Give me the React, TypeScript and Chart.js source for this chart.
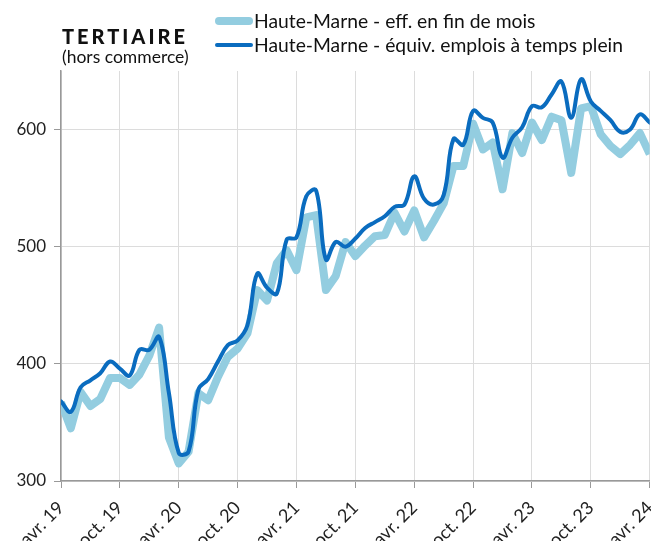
import { useEffect, useRef } from "react";
import { Chart, registerables } from "chart.js";

Chart.register(...registerables);

const tickLabels = [
  "avr. 19", "oct. 19", "avr. 20", "oct. 20", "avr. 21", "oct. 21",
  "avr. 22", "oct. 22", "avr. 23", "oct. 23", "avr. 24",
];

// Monthly values, avr. 19 .. avr. 24 (61 months)
const effFinDeMois = [
  367, 345, 376, 364, 370, 388, 388, 382, 391, 407, 431, 337,
  315, 325, 375, 369, 389, 406, 413, 426, 463, 454, 486, 497,
  480, 525, 527, 463, 475, 504, 492, 501, 509, 510, 529, 513,
  531, 508, 522, 537, 569, 569, 605, 583, 589, 549, 597, 580,
  606, 591, 611, 608, 563, 618, 620, 596, 586, 579, 587, 597,
  579,
];

const equivTempsPlein = [
  368, 359, 380, 386, 392, 402, 396, 390, 412, 412, 423, 375,
  324, 325, 378, 387, 402, 416, 420, 433, 477, 465, 460, 506,
  508, 543, 548, 489, 504, 500, 507, 516, 521, 526, 534, 536,
  560, 541, 536, 544, 592, 587, 616, 610, 606, 576, 593, 602,
  620, 619, 630, 641, 610, 643, 624, 616, 608, 598, 600, 613,
  606,
];

const seriesNames = [
  "Haute-Marne - eff. en fin de mois",
  "Haute-Marne - équiv. emplois à temps plein",
];

const LIGHT = "#93cde0";
const DARK = "#0a6cbf";
const FONT = "Lato, 'Open Sans', sans-serif";

export default function App() {
  const canvasRef = useRef<HTMLCanvasElement | null>(null);

  useEffect(() => {
    if (!canvasRef.current) return;
    const toPoints = (arr: number[]) => arr.map((y, i) => ({ x: i, y }));
    const chart = new Chart(canvasRef.current, {
      type: "line",
      data: {
        datasets: [
          {
            label: seriesNames[1],
            data: toPoints(equivTempsPlein),
            borderColor: DARK,
            backgroundColor: DARK,
            borderWidth: 4,
            tension: 0.4,
            pointRadius: 0,
            borderJoinStyle: "round",
            borderCapStyle: "round",
          },
          {
            label: seriesNames[0],
            data: toPoints(effFinDeMois),
            borderColor: LIGHT,
            backgroundColor: LIGHT,
            borderWidth: 8,
            tension: 0,
            pointRadius: 0,
            borderJoinStyle: "round",
          },
        ],
      },
      options: {
        animation: false,
        responsive: false,
        layout: { padding: { top: 71, left: 0, right: 0, bottom: 0 } },
        plugins: {
          legend: { display: false },
          title: { display: false },
          tooltip: { enabled: false },
        },
        scales: {
          x: {
            type: "linear",
            min: 0,
            max: 60,
            afterFit: (s: any) => {
              s.height = 60;
            },
            ticks: {
              stepSize: 6,
              autoSkip: false,
              minRotation: 45,
              maxRotation: 45,
              color: "#222",
              padding: 9,
              font: { family: FONT, size: 18 },
              callback: (v: any) => {
                const idx = Math.round(Number(v) / 6);
                return Number(v) % 6 === 0 ? tickLabels[idx] : "";
              },
            },
            grid: { color: "#dcdcdc", lineWidth: 1, tickLength: 7, tickColor: "#999" },
            border: { display: true, color: "#999", width: 1.5 },
          },
          y: {
            min: 300,
            max: 650,
            afterFit: (s: any) => {
              s.width = 61;
            },
            ticks: {
              stepSize: 100,
              includeBounds: false,
              color: "#222",
              padding: 8,
              font: { family: FONT, size: 17 },
            },
            grid: { color: "#dcdcdc", lineWidth: 1, tickLength: 7, tickColor: "#999" },
            border: { display: true, color: "#999", width: 1.5 },
          },
        },
      },
    });
    return () => chart.destroy();
  }, []);

  return (
    <div
      style={{
        position: "absolute",
        left: 0,
        top: 0,
        width: 651,
        height: 541,
        overflow: "hidden",
        background: "#fff",
        fontFamily: FONT,
        color: "#111",
      }}
    >
      <canvas
        ref={canvasRef}
        width={674}
        height={541}
        style={{ position: "absolute", left: 0, top: 0, width: 674, height: 541 }}
      />
      <div style={{ position: "absolute", left: 62, top: 25, fontSize: 20, fontWeight: 900, letterSpacing: 3, lineHeight: "22px" }}>
        TERTIAIRE
      </div>
      <div style={{ position: "absolute", left: 62, top: 47, fontSize: 17.5, lineHeight: "20px" }}>
        (hors commerce)
      </div>
      <div style={{ position: "absolute", left: 215, top: 9, fontSize: 19.3, lineHeight: "24px" }}>
        {[0, 1].map((k) => (
          <div key={k} style={{ display: "flex", alignItems: "center", height: 24 }}>
            <span
              style={{
                display: "inline-block",
                width: 38,
                height: k === 0 ? 8 : 4,
                background: k === 0 ? LIGHT : DARK,
                borderRadius: 4,
                marginRight: 1,
              }}
            />
            <span>{seriesNames[k]}</span>
          </div>
        ))}
      </div>
    </div>
  );
}
